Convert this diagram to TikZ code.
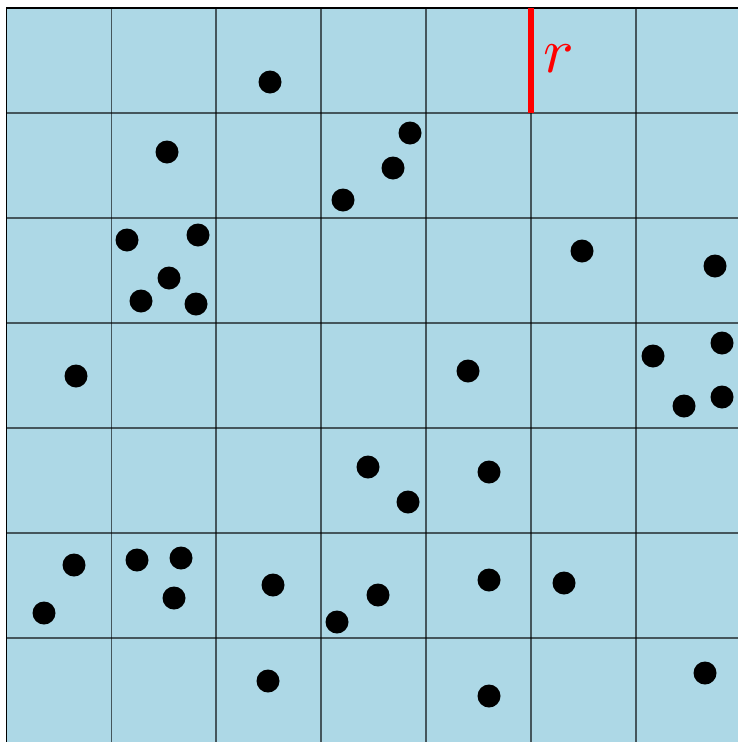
\documentclass[tikz,border=0pt]{standalone}
\begin{document}
\begin{tikzpicture}[x=1pt,y=-1pt,
  gridline/.style={draw=black,draw opacity=0.6,line width=1.8pt},
  dot/.style={fill=black},
  rline/.style={draw=red,line width=6.5pt}]
\useasboundingbox (0,0) rectangle (738,742);
\fill[white] (0,0) rectangle (738,742);
\fill[fill={rgb,255:red,173;green,216;blue,230}] (6.5,8.3) rectangle (745,745);
\foreach \i in {1,...,6}{
  \draw[gridline] ({6.5+\i*104.9},8.3) -- ({6.5+\i*104.9},745);
  \draw[gridline] (6.5,{8.3+\i*104.9}) -- (745,{8.3+\i*104.9});
}
\draw[black,line width=1.8pt] (6.5,745) -- (6.5,8.3) -- (745,8.3);
\coordinate (rtop) at (531,8.3);
\coordinate (rbot) at (531,113.2);
\draw[rline] (rtop) -- (rbot);
\node[text=red,scale=6.4,inner sep=0pt] (rlab) at (558.5,59) {$r$};
\foreach \x/\y in {270/82,
  167/152, 410/133, 393/168, 343/200,
  127/240, 198/235, 169/278, 141/301, 196/304, 582/251, 715/266,
  76/376, 468/371, 653/356, 722/343, 684/406, 722/397,
  368/467, 408/502, 489/472,
  74/565, 44/613, 137/560, 181/558, 174/598, 273/585, 378/595, 337/622, 489/580, 564/583,
  268/681, 489/696, 705/673}{
  \fill[dot] (\x,\y) circle (11.5);
}
\end{tikzpicture}
\end{document}
